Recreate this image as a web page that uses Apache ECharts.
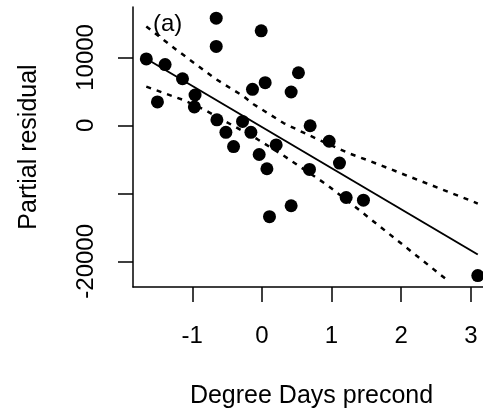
<!DOCTYPE html>
<html>
<head>
<meta charset="utf-8">
<script src="https://cdn.jsdelivr.net/npm/echarts@6/dist/echarts.min.js"></script>
<style>
html,body{margin:0;padding:0;background:#fff;}
#chart{width:483px;height:414px;}
</style>
</head>
<body>
<div id="chart"></div>
<script>
// Data
var pointX = [-1.66, -1.50, -1.39, -1.14, -0.96, -0.97, -0.656, -0.656, -0.646, -0.517, -0.407, -0.278, -0.158, -0.135, -0.01, 0.047, -0.039, 0.072, 0.205, 0.109, 0.42, 0.525, 0.42, 0.693, 0.683, 0.966, 1.114, 1.21, 1.458, 3.10];
var pointY = [9780, 3450, 8950, 6860, 4470, 2720, 15770, 11620, 820, -1020, -3120, 580, -1020, 5300, 13910, 6280, -4290, -6380, -2880, -13430, 4910, 7740, -11830, -60, -6480, -2340, -5550, -10610, -11010, -22100];
var fitX = [-1.66, 3.10];
var fitY = [9800, -19000];
var upperX = [-1.66, -1.23, -0.67, -0.27, -0.12, 0.31, 0.79, 1.27, 1.53, 3.04, 3.10];
var upperY = [14540, 11140, 6860, 4320, 3110, 340, -2000, -4190, -5170, -11240, -11500];
var lowerX = [-1.66, -1.13, -0.84, -0.07, 0.31, 0.93, 1.31, 2.68];
var lowerY = [5690, 3740, 2380, -2000, -4440, -8720, -11740, -22920];
var xTicks = [-1, 0, 1, 2, 3];
var yTicks = [-20000, -10000, 0, 10000];
var yLabels = [-20000, 0, 10000];

function pairs(xs, ys){ return xs.map(function(x,i){ return [x, ys[i]]; }); }

var FONT = 'Liberation Sans';
var chart = echarts.init(document.getElementById('chart'), null, {renderer:'canvas'});
chart.setOption({
  animation: false,
  backgroundColor: '#fff',
  textStyle: {fontFamily: FONT},
  grid: {left: 133, right: 0, top: 7, bottom: 125.5, containLabel: false},
  graphic: [{
    type: 'text', left: 153, top: 12,
    style: {text: '(a)', font: '24px "Liberation Sans"', fill: '#000'}
  }],
  xAxis: {
    type: 'value', min: -1.851, max: 3.175,
    name: 'Degree Days precond', nameLocation: 'middle', nameGap: 97,
    nameTextStyle: {fontSize: 25, color: '#000', fontFamily: FONT, padding: [0, 0, 0, 7]},
    axisLine: {show: true, onZero: false, lineStyle: {color: '#000', width: 1.5}},
    axisTick: {show: true, inside: false, length: 15, customValues: xTicks, lineStyle: {color: '#000', width: 1.5}},
    axisLabel: {show: true, margin: 37, fontSize: 24, color: '#000', fontFamily: FONT, customValues: xTicks, showMinLabel: true, showMaxLabel: true,
      formatter: function(v){ return String(v); }},
    splitLine: {show: false}
  },
  yAxis: {
    type: 'value', min: -23780, max: 17415,
    name: 'Partial residual', nameLocation: 'middle', nameGap: 91,
    nameTextStyle: {fontSize: 25, color: '#000', fontFamily: FONT},
    axisLine: {show: true, onZero: false, lineStyle: {color: '#000', width: 1.5}},
    axisTick: {show: true, inside: false, length: 15, customValues: yTicks, lineStyle: {color: '#000', width: 1.5}},
    axisLabel: {show: true, margin: 35, rotate: 90, fontSize: 24, color: '#000', fontFamily: FONT, customValues: yLabels,
      formatter: function(v){ return String(v); }},
    splitLine: {show: false}
  },
  series: [
    {
      type: 'line', data: pairs(upperX, upperY), showSymbol: false, symbol: 'none',
      lineStyle: {color: '#000', width: 2.5, type: [5, 6]}, clip: true, z: 2
    },
    {
      type: 'line', data: pairs(lowerX, lowerY), showSymbol: false, symbol: 'none',
      lineStyle: {color: '#000', width: 2.5, type: [5, 6]}, clip: true, z: 2
    },
    {
      type: 'line', data: pairs(fitX, fitY), showSymbol: false, symbol: 'none',
      lineStyle: {color: '#000', width: 2}, clip: true, z: 2
    },
    {
      type: 'scatter', data: pairs(pointX, pointY), symbol: 'circle', symbolSize: 13,
      itemStyle: {color: '#000', opacity: 1}, clip: false, z: 3
    }
  ]
});
</script>
</body>
</html>
